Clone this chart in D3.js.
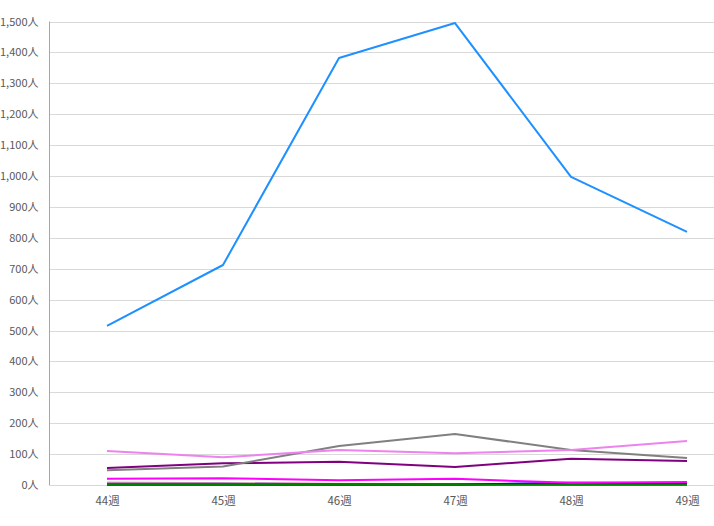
<!DOCTYPE html>
<html>
<head>
<meta charset="utf-8">
<script src="https://cdn.jsdelivr.net/npm/d3@7"></script>
<style>
  body { margin: 0; background: #fff; }
  svg text { font-family: "Noto Sans CJK JP", "Noto Sans", sans-serif; }
</style>
</head>
<body>
<div id="chart"></div>
<script>
// weeks on the x axis
const weeks = ["44週", "45週", "46週", "47週", "48週", "49週"];
const yTicks = d3.range(0, 1501, 100);

// one array per series (people per week)
const seriesA = [515, 712, 1382, 1495, 997, 819];
const seriesB = [110, 90, 113, 103, 113, 142];
const seriesC = [48, 60, 126, 165, 113, 87];
const seriesD = [55, 70, 75, 58, 85, 78];
const seriesE = [20, 22, 15, 20, 7, 10];
const seriesF = [10, 6, 4, 3, 2, 3];
const seriesG = [5, 5, 3, 3, 2, 3];
const seriesH = [1, 1, 1, 1, 7, 6];
const seriesI = [4, 3, 2, 2, 2, 2];
const seriesJ = [1, 1, 1, 1, 1, 1];

const series = [
  { values: seriesI, color: "crimson" },
  { values: seriesF, color: "khaki" },
  { values: seriesG, color: "blueviolet" },
  { values: seriesH, color: "blue" },
  { values: seriesJ, color: "green" },
  { values: seriesE, color: "magenta" },
  { values: seriesD, color: "purple" },
  { values: seriesC, color: "gray" },
  { values: seriesB, color: "violet" },
  { values: seriesA, color: "dodgerblue" }
];

const W = 714, H = 526;
const mLeft = 49, mRight = 714, mTop = 21.5, mBottom = 485;

const svg = d3.select("#chart").append("svg")
  .attr("width", W).attr("height", H);

const x = d3.scalePoint().domain(weeks).range([107, 687]);
const y = d3.scaleLinear().domain([0, 1500]).range([mBottom, mTop]);

// grid
svg.append("g")
  .selectAll("line")
  .data(yTicks)
  .join("line")
  .attr("x1", mLeft).attr("x2", mRight)
  .attr("y1", d => Math.round(y(d)) + 0.5)
  .attr("y2", d => Math.round(y(d)) + 0.5)
  .attr("stroke", "#d9d9d9");

// y axis
const yAxis = svg.append("g")
  .attr("transform", `translate(${mLeft + 0.5},0)`)
  .call(d3.axisLeft(y).tickValues(yTicks).tickSize(0).tickPadding(11)
    .tickFormat(d => d3.format(",")(d) + "人"));
yAxis.select(".domain").attr("stroke", "#a6a6a6").attr("d", `M0,${mTop}V${mBottom}`);
yAxis.selectAll("text").attr("font-size", 11).attr("fill", "#595959");

// x axis labels
const xAxis = svg.append("g")
  .attr("transform", `translate(0,${mBottom})`)
  .call(d3.axisBottom(x).tickSize(0).tickPadding(12));
xAxis.select(".domain").remove();
xAxis.selectAll("text").attr("font-size", 11.5).attr("fill", "#595959");

// lines
const line = d3.line()
  .x((d, i) => x(weeks[i]))
  .y(d => y(d));

svg.append("g")
  .selectAll("path")
  .data(series)
  .join("path")
  .attr("d", d => line(d.values))
  .attr("fill", "none")
  .attr("stroke", d => d.color)
  .attr("stroke-width", 2)
  .attr("stroke-linejoin", "round");
</script>
</body>
</html>
